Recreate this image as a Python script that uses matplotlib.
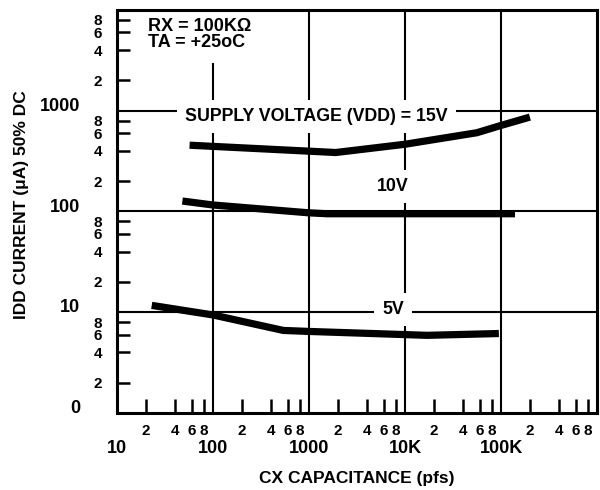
import matplotlib
matplotlib.use('Agg')
import matplotlib.pyplot as plt

# ---- data ----
cx_15v = [57, 1900, 10000, 56000, 100000, 200000]
idd_15v = [455, 385, 465, 605, 715, 865]
cx_10v = [48, 100, 1000, 1550, 140000]
idd_10v = [127, 116, 97, 95, 95]
cx_5v = [23, 100, 540, 1000, 10000, 17000, 95000]
idd_5v = [11.7, 9.4, 6.6, 6.45, 6.0, 5.9, 6.15]

x_major = [10, 100, 1000, 10000, 100000]
x_major_labels = ['10', '100', '1000', '10K', '100K']
y_major = [1, 10, 100, 1000]
y_major_labels = ['0', '10', '100', '1000']
minor_digits = [2, 4, 6, 8]
x_decades = [10, 100, 1000, 10000, 100000]
y_decades = [1, 10, 100, 1000]

plt.rcParams['font.family'] = ['Liberation Sans', 'DejaVu Sans']
plt.rcParams['font.weight'] = 'bold'

fig = plt.figure(figsize=(6, 4.9), dpi=100)
ax = fig.add_axes([117 / 600, 77 / 490, 480 / 600, 403 / 490])
ax.set_xscale('log')
ax.set_yscale('log')
ax.set_xlim(10, 1e6)
ax.set_ylim(1, 1e4)

for s in ax.spines.values():
    s.set_linewidth(2.2)
    s.set_zorder(5)

for xv in x_major[1:]:
    ax.axvline(xv, color='black', lw=1.5, zorder=1)
for yv in y_major[1:]:
    ax.axhline(yv, color='black', lw=1.5, zorder=1)

x_minor = [d * dec for dec in x_decades for d in minor_digits]
x_minor_labels = [str(d) for dec in x_decades for d in minor_digits]
y_minor = [d * dec for dec in y_decades for d in minor_digits]
y_minor_labels = [str(d) for dec in y_decades for d in minor_digits]

ax.set_xticks(x_major, x_major_labels)
ax.set_xticks(x_minor, x_minor_labels, minor=True)
ax.set_yticks(y_major, y_major_labels)
ax.set_yticks(y_minor, y_minor_labels, minor=True)

ax.tick_params(axis='x', which='major', length=0, pad=19.5, labelsize=13)
ax.tick_params(axis='x', which='minor', direction='in', length=10, width=1.8,
               pad=8.2, labelsize=11)
ax.tick_params(axis='y', which='major', length=0, pad=26.6, labelsize=13)
ax.tick_params(axis='y', which='minor', direction='in', length=9.5, width=1.8,
               pad=10.8, labelsize=11)
for lab in ax.get_yticklabels():
    lab.set_verticalalignment('baseline')

box = dict(boxstyle='square,pad=0.45', fc='white', ec='none')
ax.text(0.0646, 0.98, 'RX = 100KΩ\nTA = +25oC', transform=ax.transAxes,
        ha='left', va='top', fontsize=13, linespacing=0.9,
        bbox=dict(boxstyle='square,pad=0.7', fc='white', ec='none'), zorder=3)
ax.text(0.415, 0.7345, 'SUPPLY VOLTAGE (VDD) = 15V', transform=ax.transAxes,
        ha='center', va='center', fontsize=12.8, bbox=box, zorder=3)
ax.text(0.575, 0.561, '10V', transform=ax.transAxes,
        ha='center', va='center', fontsize=12.8, bbox=box, zorder=3)
ax.text(0.575, 0.2556, '5V', transform=ax.transAxes,
        ha='center', va='center', fontsize=12.8, bbox=box, zorder=3)

for xs, ys in [(cx_15v, idd_15v), (cx_10v, idd_10v), (cx_5v, idd_5v)]:
    ax.plot(xs, ys, color='black', lw=5.2, solid_capstyle='butt', zorder=4)

ax.set_xlabel('CX CAPACITANCE (pfs)', fontsize=12.5, fontweight='bold')
ax.xaxis.set_label_coords(0.5, -0.145)
ax.set_ylabel('IDD CURRENT (μA) 50% DC', fontsize=12.5, fontweight='bold')
ax.yaxis.set_label_coords(-0.183, 0.516)

fig.savefig('out.png', dpi=100)
